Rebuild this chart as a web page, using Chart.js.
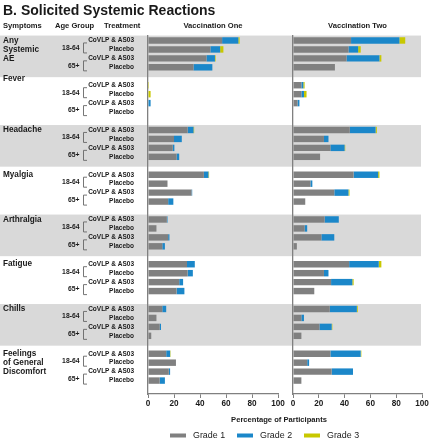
<!DOCTYPE html>
<html>
<head>
<meta charset="utf-8">
<script src="https://cdn.jsdelivr.net/npm/chart.js@4.4.0/dist/chart.umd.min.js"></script>
<style>
  html, body { margin: 0; padding: 0; background: #fff; }
  #wrap { position: relative; width: 432px; height: 440px; }
  #wrap canvas { position: absolute; left: 0; top: 0; }
</style>
</head>
<body>
<div id="wrap">
  <canvas id="doseOne" width="432" height="440"></canvas>
  <canvas id="doseTwo" width="432" height="440"></canvas>
</div>
<script>
const symptoms = ['Any Systemic AE', 'Fever', 'Headache', 'Myalgia', 'Arthralgia', 'Fatigue', 'Chills', 'Feelings of General Discomfort'];
const symptomLines = [['Any', 'Systemic', 'AE'], ['Fever'], ['Headache'], ['Myalgia'], ['Arthralgia'], ['Fatigue'], ['Chills'], ['Feelings', 'of General', 'Discomfort']];
const ageGroups = ['18-64', '65+'];
const treatments = ['CoVLP & AS03', 'Placebo'];
const gradeNames = ['Grade 1', 'Grade 2', 'Grade 3'];
const gradeColors = ['#808080', '#1b87c9', '#c8c800'];
const xTicks = [0, 20, 40, 60, 80, 100];

// 4 rows per symptom: 18-64 CoVLP, 18-64 Placebo, 65+ CoVLP, 65+ Placebo
const dose1Grade1 = [57, 48, 45, 35,   0, 0, 0, 0,   30.5, 20, 19, 22,   43, 15, 33.5, 15.5,
                     14.5, 6.5, 15.5, 11,   30, 30.5, 24, 22,   11, 6.5, 9, 2.5,   14, 21.5, 16, 9];
const dose1Grade2 = [12.5, 7.5, 6.5, 14.5,   0, 0, 2, 0,   4.5, 6, 1.3, 2,   3.5, 0, 0.5, 4,
                     0.5, 0, 1, 2,   6, 4, 3, 6,   3, 0, 1, 0,   3, 0, 1, 4];
const dose1Grade3 = [1, 2.5, 0.5, 0,   0.7, 2, 0, 0,   0.5, 0, 0, 0,   0.5, 0, 0, 0,
                     0, 0, 0, 0,   0, 0, 0, 0,   0, 0, 0, 0,   0.3, 0, 0, 0];

const dose2Grade1 = [45, 43, 41.5, 32.5,   6.5, 6.5, 3.5, 0,   44, 24, 29, 21,   47, 13.5, 32, 9.5,
                     24.5, 9, 22, 3,   43.5, 24, 29.5, 16.5,   28.5, 6.5, 20.5, 6.5,   29, 11, 30, 6.5];
const dose2Grade2 = [37.5, 7.5, 25.5, 0,   1.5, 2, 1.5, 0,   20, 3.5, 11, 0,   19, 1.5, 11, 0,
                     11, 2, 10, 0,   23, 3.5, 16.5, 0,   21, 2, 9.5, 0,   23.5, 1.5, 16.5, 0];
const dose2Grade3 = [4.5, 2, 1.5, 0,   1, 2, 0, 0,   1, 0, 0.5, 0,   1, 0, 0.8, 0,
                     0, 0, 0, 0,   2, 0, 1, 0,   0.7, 0, 0.5, 0,   0.5, 0, 0, 0];

const FONT = "'Liberation Sans', Arial, Helvetica, sans-serif";
Chart.defaults.font.family = FONT;
Chart.defaults.color = '#1a1a1a';

// one category per bar plus an empty slot after each symptom
const rowLabels = [];
symptoms.forEach(() => {
    ageGroups.forEach(() => treatments.forEach(t => rowLabels.push(t)));
    rowLabels.push('');
});

function spread(vals) {
    const out = [];
    vals.forEach((v, i) => {
        out.push(v);
        if (i % 4 === 3) out.push(null);
    });
    return out;
}

function makeDatasets(g1, g2, g3) {
    return [g1, g2, g3].map((vals, i) => ({
        label: gradeNames[i],
        data: spread(vals),
        backgroundColor: gradeColors[i],
        borderWidth: 0,
        categoryPercentage: 1,
        barPercentage: 0.72
    }));
}

const framePlugin = {
    id: 'frame',
    beforeDraw(chart) {
        const y = chart.scales.y;
        const ctx = chart.ctx;
        ctx.save();
        ctx.fillStyle = '#d9d9d9';
        symptoms.forEach((s, g) => {
            if (g % 2) return;
            const top = y.getPixelForValue(g * 5 - 0.55);
            const bot = y.getPixelForValue(g * 5 + 4.1);
            ctx.fillRect(0, top, 421, bot - top);
        });
        ctx.restore();
    },
    afterDraw(chart) {
        const y = chart.scales.y;
        const ctx = chart.ctx;
        ctx.save();
        ctx.fillStyle = '#1a1a1a';

        ctx.textBaseline = 'alphabetic';
        ctx.textAlign = 'left';
        ctx.font = 'bold 14px ' + FONT;
        ctx.fillText('B. Solicited Systemic Reactions', 3, 14.5);

        ctx.textBaseline = 'middle';
        ctx.font = 'bold 7.6px ' + FONT;
        ctx.fillText('Symptoms', 3, 25.5);
        ctx.fillText('Age Group', 55, 25.5);
        ctx.fillText('Treatment', 104, 25.5);
        ctx.textAlign = 'center';
        ctx.fillText('Vaccination One', 213, 25.5);
        ctx.fillText('Vaccination Two', 357.5, 25.5);

        // symptom names
        ctx.textAlign = 'left';
        ctx.font = 'bold 8.2px ' + FONT;
        symptomLines.forEach((lines, g) => {
            let y0 = y.getPixelForValue(g * 5);
            if (g === 1) y0 -= 6;
            lines.forEach((line, k) => ctx.fillText(line, 3, y0 + k * 9));
        });

        // age groups with brackets
        ctx.font = 'bold 6.8px ' + FONT;
        ctx.strokeStyle = '#666';
        ctx.lineWidth = 0.9;
        symptoms.forEach((s, g) => {
            ageGroups.forEach((age, a) => {
                const ya = y.getPixelForValue(g * 5 + a * 2);
                const yb = y.getPixelForValue(g * 5 + a * 2 + 1);
                const mid = (ya + yb) / 2 + 3;
                ctx.textAlign = 'right';
                ctx.fillText(age, 79.5, mid);
                ctx.beginPath();
                ctx.moveTo(87, mid - 5);
                ctx.lineTo(83.5, mid - 5);
                ctx.lineTo(83.5, mid + 5);
                ctx.lineTo(87, mid + 5);
                ctx.stroke();
            });
        });

        // axis title
        ctx.textAlign = 'center';
        ctx.font = 'bold 7.6px ' + FONT;
        ctx.fillText('Percentage of Participants', 279, 419.5);

        // legend
        const legendX = [170, 237, 304];
        ctx.textAlign = 'left';
        ctx.font = '8.9px ' + FONT;
        gradeNames.forEach((name, i) => {
            ctx.fillStyle = gradeColors[i];
            ctx.fillRect(legendX[i], 433.5, 16, 4);
            ctx.fillStyle = '#1a1a1a';
            ctx.fillText(name, legendX[i] + 23, 435.8);
        });
        ctx.restore();
    }
};

function makeOptions(leftEdge, rightPad, showLabels) {
    return {
        indexAxis: 'y',
        responsive: false,
        animation: false,
        devicePixelRatio: 1,
        layout: { padding: { top: 36, right: rightPad, bottom: 0, left: 0 } },
        plugins: { legend: { display: false }, tooltip: { enabled: false } },
        scales: {
            x: {
                stacked: true,
                min: 0,
                max: 100,
                afterBuildTicks: s => { s.ticks = xTicks.map(v => ({ value: v })); },
                afterFit: s => { s.height = 46; },
                grid: { display: true, drawOnChartArea: false, drawTicks: true, tickLength: 4, color: '#808080' },
                border: { display: true, color: '#808080', width: 1.3 },
                ticks: { font: { size: 8.2, weight: 'bold' }, padding: 1, color: '#1a1a1a', maxRotation: 0 }
            },
            y: {
                stacked: true,
                afterFit: s => { s.width = leftEdge; },
                grid: { display: false },
                border: { display: true, color: '#808080', width: 1.3 },
                ticks: { display: showLabels, autoSkip: false, padding: 6, font: { size: 6.5, weight: 'bold' }, color: '#1a1a1a' }
            }
        }
    };
}

new Chart(document.getElementById('doseOne'), {
    type: 'bar',
    data: { labels: rowLabels, datasets: makeDatasets(dose1Grade1, dose1Grade2, dose1Grade3) },
    options: makeOptions(148, 154, true),
    plugins: [framePlugin]
});

new Chart(document.getElementById('doseTwo'), {
    type: 'bar',
    data: { labels: rowLabels, datasets: makeDatasets(dose2Grade1, dose2Grade2, dose2Grade3) },
    options: makeOptions(293, 10, false)
});
</script>
</body>
</html>
